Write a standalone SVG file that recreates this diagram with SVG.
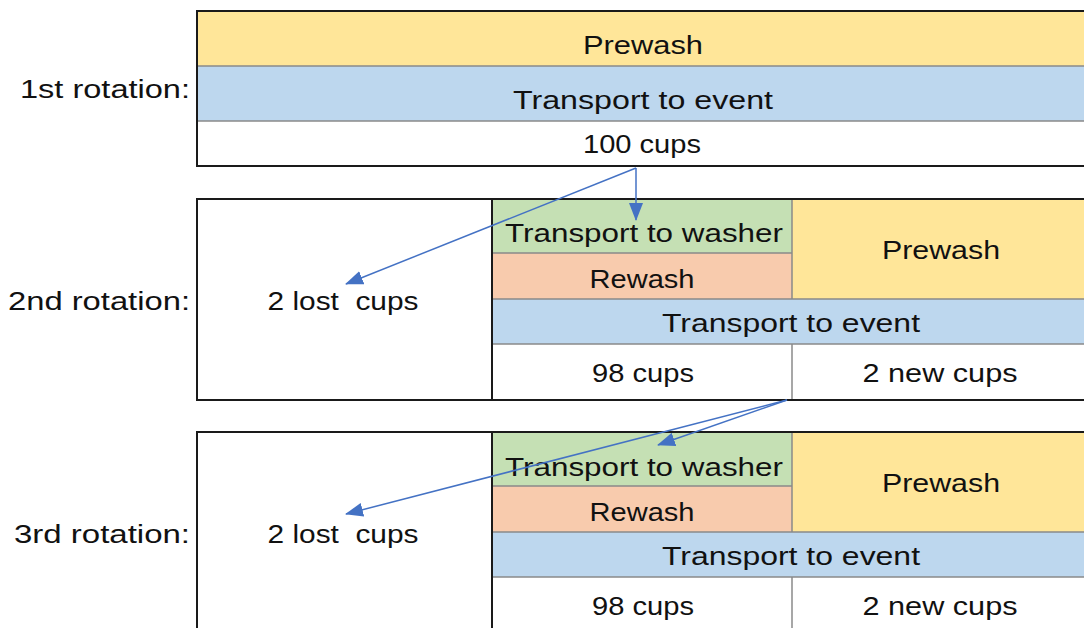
<svg xmlns="http://www.w3.org/2000/svg" width="1084" height="628" viewBox="0 0 1084 628">
<defs>
<style>
.t{font-family:"Liberation Sans",Arial,sans-serif;font-size:25px;fill:#111;text-anchor:middle}
.o{fill:none;stroke:#1a1a1a;stroke-width:2}
.g{stroke:#8a8a8a;stroke-width:1.5;fill:none}
.y{fill:#FFE699}.b{fill:#BDD7EE}.gr{fill:#C5E0B4}.or{fill:#F8CBAD}.w{fill:#ffffff}
.c{stroke:#4472C4;stroke-width:1.5;fill:none}
</style>
<marker id="ah" markerWidth="18" markerHeight="14" refX="17" refY="7" orient="auto" markerUnits="userSpaceOnUse">
<path d="M0,0 L18,7 L0,14 Z" fill="#4472C4"/>
</marker>
</defs>
<rect width="1084" height="628" fill="#ffffff"/>
<g id="labels">
<text class="t" x="105" y="98" textLength="170" lengthAdjust="spacingAndGlyphs">1st rotation:</text>
<text class="t" x="99" y="310" textLength="182" lengthAdjust="spacingAndGlyphs">2nd rotation:</text>
<text class="t" x="102" y="543" textLength="176" lengthAdjust="spacingAndGlyphs">3rd rotation:</text>
</g>
<g id="rotation1">
<rect class="y" x="197" y="11" width="893" height="55"/>
<rect class="b" x="197" y="66" width="893" height="55"/>
<rect class="w" x="197" y="121" width="893" height="45"/>
<line class="g" x1="197" y1="66" x2="1090" y2="66"/>
<line class="g" x1="197" y1="121" x2="1090" y2="121"/>
<rect class="o" x="197" y="11" width="893" height="155"/>
<text class="t" x="643" y="54" textLength="120" lengthAdjust="spacingAndGlyphs">Prewash</text>
<text class="t" x="643" y="109" textLength="260" lengthAdjust="spacingAndGlyphs">Transport to event</text>
<text class="t" x="642" y="153" textLength="118" lengthAdjust="spacingAndGlyphs">100 cups</text>
</g>
<g id="rotation2">
<rect class="w" x="197" y="199" width="893" height="201"/>
<rect class="gr" x="492" y="199" width="300" height="54"/>
<rect class="or" x="492" y="253" width="300" height="46"/>
<rect class="y" x="792" y="199" width="298" height="100"/>
<rect class="b" x="492" y="299" width="598" height="45"/>
<line class="g" x1="492" y1="253" x2="792" y2="253"/>
<line class="g" x1="492" y1="299" x2="1090" y2="299"/>
<line class="g" x1="492" y1="344" x2="1090" y2="344"/>
<line class="g" x1="792" y1="199" x2="792" y2="299"/>
<line class="g" x1="792" y1="344" x2="792" y2="400"/>
<line class="o" x1="492" y1="199" x2="492" y2="400"/>
<rect class="o" x="197" y="199" width="893" height="201"/>
<text class="t" x="343" y="310" textLength="151" lengthAdjust="spacingAndGlyphs">2 lost&#160; cups</text>
<text class="t" x="644" y="242" textLength="278" lengthAdjust="spacingAndGlyphs">Transport to washer</text>
<text class="t" x="642" y="288" textLength="105" lengthAdjust="spacingAndGlyphs">Rewash</text>
<text class="t" x="941" y="259" textLength="118" lengthAdjust="spacingAndGlyphs">Prewash</text>
<text class="t" x="791" y="332" textLength="258" lengthAdjust="spacingAndGlyphs">Transport to event</text>
<text class="t" x="643" y="382" textLength="102" lengthAdjust="spacingAndGlyphs">98 cups</text>
<text class="t" x="940" y="382" textLength="155" lengthAdjust="spacingAndGlyphs">2 new cups</text>
</g>
<g id="rotation3">
<rect class="w" x="197" y="432" width="893" height="206"/>
<rect class="gr" x="492" y="432" width="300" height="54"/>
<rect class="or" x="492" y="486" width="300" height="46"/>
<rect class="y" x="792" y="432" width="298" height="100"/>
<rect class="b" x="492" y="532" width="598" height="45"/>
<line class="g" x1="492" y1="486" x2="792" y2="486"/>
<line class="g" x1="492" y1="532" x2="1090" y2="532"/>
<line class="g" x1="492" y1="577" x2="1090" y2="577"/>
<line class="g" x1="792" y1="432" x2="792" y2="532"/>
<line class="g" x1="792" y1="577" x2="792" y2="638"/>
<line class="o" x1="492" y1="432" x2="492" y2="638"/>
<rect class="o" x="197" y="432" width="893" height="206"/>
<text class="t" x="343" y="543" textLength="151" lengthAdjust="spacingAndGlyphs">2 lost&#160; cups</text>
<text class="t" x="644" y="476" textLength="278" lengthAdjust="spacingAndGlyphs">Transport to washer</text>
<text class="t" x="642" y="521" textLength="105" lengthAdjust="spacingAndGlyphs">Rewash</text>
<text class="t" x="941" y="492" textLength="118" lengthAdjust="spacingAndGlyphs">Prewash</text>
<text class="t" x="791" y="565" textLength="258" lengthAdjust="spacingAndGlyphs">Transport to event</text>
<text class="t" x="643" y="615" textLength="102" lengthAdjust="spacingAndGlyphs">98 cups</text>
<text class="t" x="940" y="615" textLength="155" lengthAdjust="spacingAndGlyphs">2 new cups</text>
</g>
<g id="connectors">
<line class="c" x1="636" y1="168" x2="636" y2="220" marker-end="url(#ah)"/>
<line class="c" x1="636" y1="168" x2="346" y2="284" marker-end="url(#ah)"/>
<line class="c" x1="787" y1="400" x2="658" y2="445" marker-end="url(#ah)"/>
<line class="c" x1="787" y1="400" x2="346" y2="514" marker-end="url(#ah)"/>
</g>
</svg>
